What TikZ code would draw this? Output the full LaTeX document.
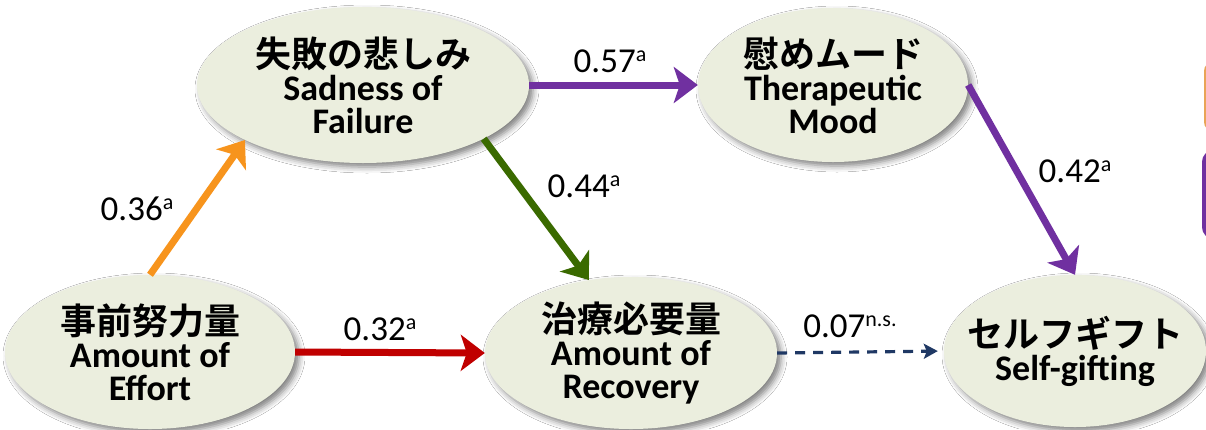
\documentclass[tikz,border=0pt]{standalone}
\usepackage{fontspec}
\setmainfont{Carlito}
\newfontfamily\jp[BoldFont=Noto Sans CJK JP Bold]{Noto Sans CJK JP}
\usetikzlibrary{shapes.geometric,arrows.meta,shadows.blur}
\definecolor{ellfill}{HTML}{EBEEDE}
\definecolor{corange}{HTML}{F7941D}
\definecolor{cpurple}{HTML}{7030A0}
\definecolor{cgreen}{HTML}{3A6A00}
\definecolor{cred}{HTML}{C00000}
\definecolor{cnavy}{HTML}{1F3864}
\definecolor{cboxor}{HTML}{E9A456}
\newcommand{\supa}[1]{\raisebox{11pt}{\fontsize{22}{22}\selectfont #1}}
\begin{document}
\begin{tikzpicture}[x=1pt,y=-1pt,
  ell/.style={ellipse, fill=ellfill, inner sep=0pt,
    blur shadow={shadow xshift=4pt, shadow yshift=-4pt, shadow opacity=50, shadow blur radius=6pt}},
  txt/.style={inner sep=0pt, align=center, font=\fontsize{36}{33}\selectfont\bfseries},
  lab/.style={anchor=base, inner sep=0pt, font=\fontsize{35}{35}\selectfont},
  conn/.style={line width=7pt, -{Stealth[length=24pt,width=36pt,inset=6pt]}},
  dconn/.style={line width=3.2pt, dash pattern=on 10pt off 8pt, -{Stealth[length=14pt,width=15pt,inset=3pt]}}
]
\useasboundingbox (0,0) rectangle (1206,429);
\fill[white] (0,0) rectangle (1206,429);

% partial boxes at right edge
\draw[cboxor, line width=2pt, rounded corners=8pt] (1205,63) rectangle (1300,130);
\draw[cpurple, line width=4pt, rounded corners=10pt] (1204,152) rectangle (1300,237);

% ellipses
\node[ell, minimum width=290pt, minimum height=154pt] (eff) at (150,352) {};
\node[ell, minimum width=332pt, minimum height=156pt] (sad) at (363,85) {};
\node[ell, minimum width=270pt, minimum height=154pt] (ther) at (833,85) {};
\node[ell, minimum width=292pt, minimum height=152pt] (rec) at (631,353) {};
\node[ell, minimum width=262pt, minimum height=152pt] (self) at (1075,351) {};

\node[txt] (efft) at (eff.center) {{\jp\bfseries 事前努力量}\\Amount of\\Effort};
\node[txt] (sadt) at (sad.center) {{\jp\bfseries 失敗の悲しみ}\\Sadness of\\Failure};
\node[txt] (thert) at (ther.center) {{\jp\bfseries 慰めムード}\\Therapeutic\\Mood};
\node[txt] (rect) at (rec.center) {{\jp\bfseries 治療必要量}\\Amount of\\Recovery};
\node[txt] (selft) at (self.center) {{\jp\bfseries セルフギフト}\\Self-gifting};

% connectors
\draw[conn, corange] (eff.north) -- (sad.205);
\draw[conn, cgreen] (sad.-24) -- (rec.120);
\draw[conn, cpurple] (sad.east) -- (ther.west);
\draw[conn, cpurple] (ther.east) -- (self.north);
\draw[conn, cred] (eff.east) -- (rec.west);
\draw[dconn, cnavy, shorten >=6pt] (rec.east) -- (self.west);

% labels
\node[lab] (l1) at (137,220) {0.36\supa{a}};
\node[lab] (l2) at (584,197) {0.44\supa{a}};
\node[lab] (l3) at (610,72) {0.57\supa{a}};
\node[lab] (l4) at (1075,182) {0.42\supa{a}};
\node[lab] (l5) at (380,340) {0.32\supa{a}};
\node[lab] (l6) at (850,337) {0.07\supa{n.s.}};
\end{tikzpicture}
\end{document}
